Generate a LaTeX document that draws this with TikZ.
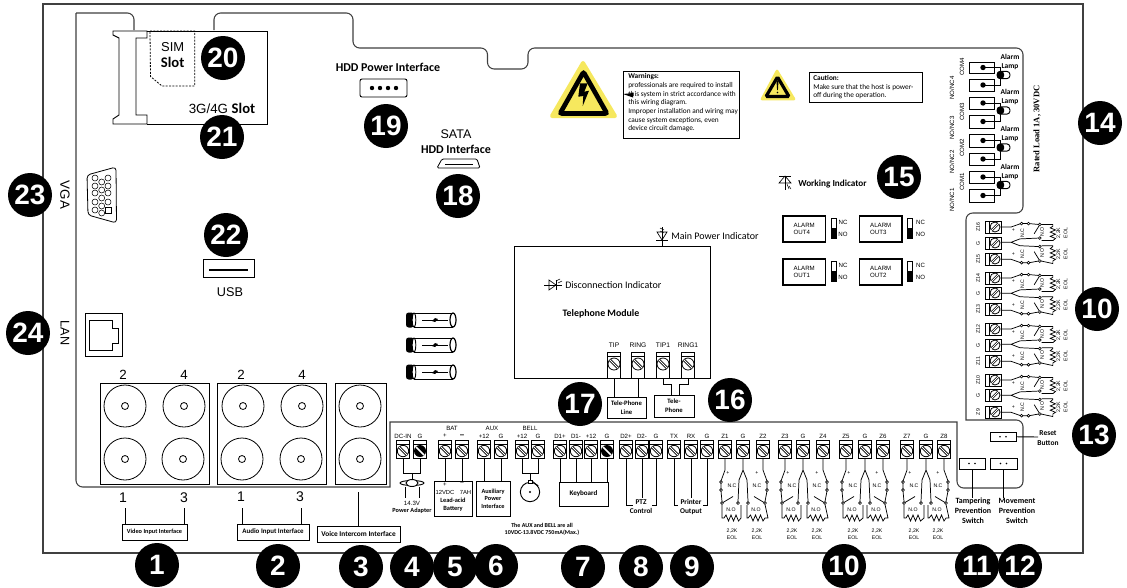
\documentclass[tikz,border=0pt]{standalone}
\usepackage{fontspec}
\setmainfont{Liberation Sans}
\newfontfamily\carl{Carlito}
\newfontfamily\serf{Liberation Serif}
\usetikzlibrary{calc}
\definecolor{warnyel}{HTML}{F6E85E}
\tikzset{
  wire/.style={line width=.7pt,line join=miter},
  frameline/.style={line width=.8pt,draw=black!75},
  numc/.style={circle,fill=black,text=white,inner sep=0,minimum size=33pt,font=\fontsize{21}{21}\selectfont\bfseries},
  tb/.style={draw,line width=.7pt,inner sep=0,outer sep=0},
  lab/.style={inner sep=0,font=\fontsize{4.6}{5.5}\selectfont},
  big/.style={inner sep=0,font=\fontsize{10}{11}\selectfont},
  cb/.style={inner sep=0,align=center,font=\carl\bfseries\fontsize{5}{6.6}\selectfont},
  cbm/.style={inner sep=0,align=center,font=\carl\bfseries\fontsize{6}{7.5}\selectfont},
  cr/.style={inner sep=0,align=left,font=\carl\fontsize{7.5}{8}\selectfont},
  sm/.style={inner sep=0,font=\fontsize{3.9}{4.6}\selectfont,align=center},
}
\newcommand\bx[7]{\node[draw,#6,minimum width={(#4-#2)*.75pt},minimum height={(#5-#3)*.75pt},inner sep=0,outer sep=0] (#1) at ({(#2+#4)/2},{(#3+#5)/2}) {#7};}
\newcommand\num[3]{\node[numc] (n#3x#1) at (#1,#2) {#3};}
% vertical terminal
\newcommand\tv[3]{%
  \node[tb,minimum width=9.75pt,minimum height=13.5pt] (#1) at (#2,449) {};
  \draw[line width=.6pt] (#2-6.5,444)--(#2+6.5,444);
  \draw[line width=.6pt,fill=white] (#2,451) circle (5.7);
  \draw[line width=2pt,line cap=butt] (#2-4,447)--(#2+4,455);
  \draw[line width=.7pt,white] (#2-4.2,446.8)--(#2+4.2,455.2);
  \node[lab] at (#2,436) {#3};}
\newcommand\tk[3]{%
  \node[tb,minimum width=9.75pt,minimum height=13.5pt] (#1) at (#2,449) {};
  \draw[line width=.6pt] (#2-6.5,444)--(#2+6.5,444);
  \fill (#2,451) circle (6);
  \draw[line width=1.2pt,white] (#2-4,447)--(#2+4,455);
  \node[lab] at (#2,436) {#3};}
% telephone terminal
\newcommand\tvt[3]{%
  \node[tb,minimum width=9.75pt,minimum height=19.5pt] (#1) at (#2,365) {};
  \draw[line width=.6pt] (#2-6.5,356.5)--(#2+6.5,356.5);
  \draw[line width=.6pt,fill=white] (#2,364) circle (6);
  \draw[line width=2pt,line cap=butt] (#2-4.2,359.8)--(#2+4.2,368.2);
  \draw[line width=.7pt,white] (#2-4.4,359.6)--(#2+4.4,368.4);
  \node[lab,font=\fontsize{5}{6}\selectfont] at (#2,345) {#3};}
% horizontal terminal
\newcommand\termh[3]{%
  \node[tb,minimum width=12pt,minimum height=9pt] (#1) at (993,#2) {};
  \draw[line width=.6pt] (989,#2-6)--(989,#2+6);
  \draw[line width=.6pt,fill=white] (995,#2) circle (5);
  \draw[line width=1.7pt] (991.5,#2+3.5)--(998.5,#2-3.5);
  \draw[line width=.6pt,white] (991.3,#2+3.7)--(998.7,#2-3.7);
  \node[lab,rotate=90,font=\fontsize{3.9}{4.6}\selectfont] at (978,#2) {#3};}
% coordinate map for zone wiring
\newcommand\PT[2]{({\mA+\mB*(#1)+\mC*(#2)},{\mD+\mE*(#1)+\mF*(#2)})}
\newcommand\zone[3]{%
  \draw[wire,line width=.55pt]
    \PT{#1}{458}--\PT{#1}{470}--\PT{#1-4}{481}\PT{#1-4}{483}--\PT{#1-4}{489}\PT{#1-4}{491}--\PT{#1-3}{501.5}
    \PT{#1-3}{504.5}--\PT{#1-3}{518}--\PT{#1-1}{518}--\PT{#1+1}{515}--\PT{#1+3.5}{521}--\PT{#1+6}{515}--\PT{#1+8.5}{521}--\PT{#1+11}{515}--\PT{#1+13.5}{521}--\PT{#2-2}{518}--\PT{#2-2}{505}
    \PT{#1-2}{502.5}--\PT{#1+8}{496.5}
    \PT{#2}{458}--\PT{#2}{470}--\PT{#2-4}{480}--\PT{#2-5}{501.5}
    \PT{#2}{470}--\PT{#2+4}{480}--\PT{#2+5}{501.5}
    \PT{#3}{458}--\PT{#3}{470}--\PT{#3+4}{481}\PT{#3+4}{483}--\PT{#3+4}{489}\PT{#3+4}{491}--\PT{#3+2}{501.5}
    \PT{#3+2}{504.5}--\PT{#3+5}{518}--\PT{#3+2}{518}--\PT{#3}{521}--\PT{#3-2.5}{515}--\PT{#3-5}{521}--\PT{#3-7.5}{515}--\PT{#3-10}{521}--\PT{#3-12.5}{515}--\PT{#3-15}{518}--\PT{#3-16}{518}--\PT{#3-16}{505}
    \PT{#3+1}{502.5}--\PT{#3-9}{496.5};
  \foreach \uu/\vv in {#1-4/482,#1-4/490,#1-3/503,#2-5/503,#2+5/503,#3+4/482,#3+4/490,#3+2/503}
    \draw[line width=.45pt,fill=white] \PT{\uu}{\vv} circle (1.4);
  \node[sm,rotate=\zrot] at \PT{#1+3}{473} {+};
  \node[sm,rotate=\zrot] at \PT{#3-6}{473} {+};
  \node[sm,rotate=\zrot] at \PT{#1+7}{\vc} {N.C};
  \node[sm,rotate=\zrot] at \PT{#3-6}{\vc} {N.C};
  \node[sm,rotate=\zrot] at \PT{#1+6}{\vo} {N.O};
  \node[sm,rotate=\zrot] at \PT{#3-7}{\vo} {N.O};
  \node[sm,rotate=\zrot] at \PT{#1+7}{\vk} {2,2K};
  \node[sm,rotate=\zrot] at \PT{#1+7}{\ve} {EOL};
  \node[sm,rotate=\zrot] at \PT{#3-6}{\vk} {2,2K};
  \node[sm,rotate=\zrot] at \PT{#3-6}{\ve} {EOL};
}
\newcommand\fuse[2]{%
  \draw[line width=.7pt] (#1+8,#2-7)--(#1+47,#2-7) (#1+8,#2+7)--(#1+47,#2+7);
  \fill[rounded corners=2] (#1,#2-7.5) rectangle (#1+8,#2+7.5);
  \draw[line width=.7pt,fill=white] (#1+8,#2) ellipse (1.8 and 7);
  \draw[line width=.9pt,fill=white] (#1+47,#2) ellipse (3 and 7);
  \draw[line width=.6pt] (#1+16,#2)--(#1+42,#2);
  \fill (#1+26,#2+1)--(#1+29,#2-2)--(#1+32,#2-1)--(#1+29,#2+2)--cycle;}
\newcommand\bnc[2]{\draw[line width=.6pt] (#1,#2) circle (21) (#1,#2) circle (3.5);}
\newcommand\alarmout[5]{%
  \bx{#1}{#2}{#3}{#2+42.5}{#3+26}{line width=1.3pt,align=left,font=\fontsize{4.6}{5.8}\selectfont}{ALARM\\OUT#4}
  \draw[line width=.4pt] (#2+48,#3+2) rectangle (#2+53,#3+22);
  \fill (#2+48,#3+12) rectangle (#2+53,#3+22);
  \node[lab] at (#2+#5,#3+6) {NC};
  \node[lab] at (#2+#5,#3+18) {NO};}
\newcommand\lamp[3]{% y1 y2 ly
  \draw[line width=.5pt] (983,#1)--(1000,#1)--(1000,#3) (983,#2)--(1000,#2)--(1000,#3);
  \draw[line width=.7pt,fill=white,rounded corners=2.5] (997,#3-3.7) rectangle (1010,#3+3.7);
  \fill[rounded corners=2] (997,#3-3.7) rectangle (1004,#3+3.7);
  \fill (983,#1) circle (2.7) (983,#2) circle (2.7);}
\begin{document}
\begin{tikzpicture}[x=.75pt,y=-.75pt]
\useasboundingbox (0,0) rectangle (1127,587);
\fill[white] (0,0) rectangle (1127,587);
% outer case
\draw[frameline] (43,4) rectangle (1083,553);
% inner board outline
\draw[frameline,rounded corners=5]
  (76,13)--(134,13)--(134,30) (214,30)--(214,13)--(353,13)--(353,48)--(487.5,48)--(487.5,69)--(528,69)--(528,48)--(1023,48)--(1023,213)--(966,213)
  [sharp corners]--(966,420)
  [rounded corners=5]--(1023,420)--(1023,488)--(957,488)
  [sharp corners]--(957,422)--(390,422)--(390,487)
  [rounded corners=5]--(76,487)--(76,13);

% SIM / 3G slot
\draw[line width=.7pt] (113,31)--(147,31)--(147,38)--(136,38)--(136,115)--(147,115)--(147,124)--(113,124)--(113,119)--(119,115)--(119,38)--(113,35)--cycle;
\draw[line width=.7pt] (147,31)--(267,31)--(267,124)--(147,124);
\draw[line width=.6pt,dashed,dash pattern=on 1.5pt off 1pt] (150,31)--(194.7,31)--(194.7,86)--(162,86)--(150.5,76.5)--cycle;
\node[big,font=\fontsize{9.7}{10}\selectfont] (simt) at (172.7,47) {SIM};
\node[inner sep=0,font=\carl\bfseries\fontsize{11}{11}\selectfont] (slott) at (172.7,62) {Slot};
\node[inner sep=0] (g3t) at (222,108) {\fontsize{10}{10}\selectfont 3G/4G \carl\bfseries\fontsize{11}{11}\selectfont Slot};

% HDD
\node[inner sep=0,font=\carl\bfseries\fontsize{9}{9}\selectfont] (hddp) at (388,67) {HDD Power Interface};
\bx{hddc}{360}{79}{407}{97}{line width=.7pt,rounded corners=1.5}{}
\foreach \x in {372,380,388,396} \fill (\x,88) circle (2.2);
\node[inner sep=0,font=\fontsize{9.4}{10}\selectfont] (sata) at (456,134) {SATA};
\node[inner sep=0,font=\carl\bfseries\fontsize{9}{9}\selectfont] (hddi) at (456,149) {HDD Interface};
\draw[line width=.6pt,rounded corners=1] (437,168)--(442,159)--(477,159)--(480,168)--cycle;
\draw[line width=.6pt] (445,164)--(473,164);

% VGA
\node[rotate=-90,inner sep=0,font=\fontsize{10}{10}\selectfont] (vgat) at (65,195) {VGA};
\node[rotate=-90,inner sep=0,font=\fontsize{9.5}{10}\selectfont] (lant) at (65,333) {LAN};
\draw[line width=.6pt,rounded corners=2.5] (87,175)--(116,167)--(116.5,223)--(88,215)--cycle;
\foreach \y in {178,186,193,202,210} \draw[line width=.4pt] (95,\y) circle (3);
\foreach \y in {182,190,198,206,213} \draw[line width=.4pt] (101.7,\y) circle (3);
\foreach \y in {178,186,193,202} \draw[line width=.4pt] (108,\y) circle (3);
\draw[line width=.4pt] (105.5,207.5) rectangle (111,213);
% USB
\bx{usb}{203}{259}{254}{277}{line width=.6pt}{}
\draw[line width=2.2pt] (209,270)--(248,270);
\node[inner sep=0,font=\fontsize{9.5}{10}\selectfont] (usbt) at (230,292) {USB};
% LAN
\bx{lan}{85}{313}{122}{356}{line width=.6pt}{}
\draw[line width=.6pt] (89,320)--(112,320)--(112,328)--(118,328)--(118,343)--(112,343)--(112,350)--(89,350)--cycle;

% BNC blocks
\bx{vb}{100}{383}{209}{484}{line width=.7pt}{}
\bx{ab}{217}{383}{326}{484}{line width=.7pt}{}
\bx{ib}{335}{383}{386}{484}{line width=.7pt}{}
\bnc{125}{406}\bnc{184}{406}\bnc{125}{459}\bnc{183}{459}
\bnc{243}{406}\bnc{302}{406}\bnc{242}{459}\bnc{301}{459}
\bnc{360}{406}\bnc{360}{459}
\foreach \x/\t in {123/2,184/4,241/2,302/4} \node[inner sep=0,font=\fontsize{10}{10}\selectfont] at (\x,375) {\t};
\node[inner sep=0,font=\fontsize{10.5}{10}\selectfont] (v1) at (123,498) {1};
\node[inner sep=0,font=\fontsize{10.5}{10}\selectfont] (v3) at (184,498) {3};
\node[inner sep=0,font=\fontsize{10.5}{10}\selectfont] (a1) at (241,497) {1};
\node[inner sep=0,font=\fontsize{10.5}{10}\selectfont] (a3) at (300,497) {3};
\bx{vbox}{122}{524}{187}{540}{line width=.6pt,cb,font=\carl\bfseries\fontsize{4.7}{5}\selectfont}{Video Input Interface}
\bx{abox}{237}{524}{309}{540}{line width=.6pt,cb,font=\carl\bfseries\fontsize{5.2}{5}\selectfont}{Audio Input Interface}
\bx{ibox}{317}{526}{400}{542}{line width=.6pt,cb,font=\carl\bfseries\fontsize{5.5}{5}\selectfont}{Voice Intercom Interface}
\coordinate (v1w) at (125,508);\coordinate (v3w) at (184,508);
\coordinate (a1w) at (242,508);\coordinate (a3w) at (301,508);\coordinate (iw) at (358,492);
\draw[wire] (v1w)--(v1w|-vbox.north) (v3w)--(v3w|-vbox.north) (a1w)--(a1w|-abox.north) (a3w)--(a3w|-abox.north) (iw)--(iw|-ibox.north);

% terminals: bottom row
\tv{tdc}{403}{DC-IN}\tk{tg1}{420}{G}
\tv{tbp}{445}{+}\tv{tbm}{462}{\textbf{\fontsize{6}{6}\selectfont --}}
\tv{tax}{484}{+12}\tv{tag}{501}{G}
\tv{tbl}{522}{+12}\tv{tbg}{538}{G}
\tv{td1}{560}{D1+}\tv{td2}{576}{D1-}\tv{td3}{591}{+12}\tk{td4}{607}{G}
\tv{tp1}{626}{D2+}\tv{tp2}{642}{D2-}\tv{tp3}{656}{G}
\tv{tr1}{674}{TX}\tv{tr2}{691}{RX}\tv{tr3}{707}{G}
\tv{z1}{725}{Z1}\tv{g1}{743}{G}\tv{z2}{763}{Z2}
\tv{z3}{785}{Z3}\tv{g2}{803}{G}\tv{z4}{823}{Z4}
\tv{z5}{846}{Z5}\tv{g3}{865}{G}\tv{z6}{883}{Z6}
\tv{z7}{907}{Z7}\tv{g4}{926}{G}\tv{z8}{944}{Z8}
\node[lab] (batt) at (452,428) {BAT};
\node[lab] (auxt) at (492,428) {AUX};
\node[lab] (bellt) at (530,428) {BELL};

% DC adapter
\draw[wire] (tdc.south)--(403,473)--(420,473)--(tg1.south);
\coordinate (adp) at (412,483);
\draw[wire] (412,473)--(412,479);
\draw[wire] (405,487)--(405,498) (419,487)--(419,498);
\draw[line width=.7pt,fill=white] (adp) ellipse (12 and 2.5);
\draw[line width=.7pt,fill=white] (adp) ellipse (6 and 3.5);
\node[lab] (v143) at (412,503) {14.3V};
\node[cb,font=\carl\bfseries\fontsize{4.7}{5}\selectfont] (padp) at (412,511) {Power Adapter};
% battery
\bx{batb}{434}{481}{472}{516}{line width=.7pt}{}
\draw[wire] (tbp.south)--(tbp.south|-batb.north) (tbm.south)--(tbm.south|-batb.north);
\node[lab] at (445,485) {+};
\node[lab] at (462,484) {--};
\node[lab,font=\fontsize{4.4}{5}\selectfont] at (445,492) {12VDC};
\node[lab,font=\fontsize{4.4}{5}\selectfont] at (465.5,492) {7AH};
\node[cb,font=\carl\bfseries\fontsize{4.8}{6}\selectfont] (bat2) at (453,505) {Lead-acid\\Battery};
% aux
\bx{auxb}{476}{481}{510}{516}{line width=.7pt,cb,font=\carl\bfseries\fontsize{4.7}{5.6}\selectfont}{Auxiliary\\Power\\Interface}
\draw[wire] (tax.south)--(tax.south|-auxb.north) (tag.south)--(tag.south|-auxb.north);
% bell
\node[draw,circle,line width=.7pt,minimum size=14.5pt,inner sep=0] (bellc) at (530,492) {};
\fill (bellc) circle (1.2);
\draw[wire] (tbl.south)--(522,473)--(538,473)--(tbg.south) (530,473)--(530,480);
\draw[line width=.6pt,fill=white] (528,480) rectangle (532,483);
\draw[line width=.6pt] (532,481)--(537,485); \fill (537.5,485.5) circle (1);
% keyboard
\bx{kbd}{559}{482}{608}{506}{line width=.7pt,cb,font=\carl\bfseries\fontsize{5.3}{6}\selectfont}{Keyboard}
\draw[wire] (td1.south)--(td1.south|-kbd.north) (td2.south)--(td2.south|-kbd.north) (td3.south)--(td3.south|-kbd.north) (td4.south)--(td4.south|-kbd.north);
% PTZ & printer
\node[cb,font=\carl\bfseries\fontsize{5.5}{6.8}\selectfont] (ptz) at (641,507) {PTZ\\Control};
\draw[wire] (tp1.south)--(626,505)--(633,505) (tp2.south)--(642,498) (tp3.south)--(656,505)--(652,505);
\node[cb,font=\carl\bfseries\fontsize{5.5}{6.8}\selectfont] (prn) at (691,507) {Printer\\Output};
\draw[wire] (tr1.south)--(674,505)--(678,505) (tr2.south)--(691,498) (tr3.south)--(707,505)--(703,505);
\node[cb,font=\carl\bfseries\fontsize{4.5}{5.4}\selectfont] (aux2) at (542,529.5) {The AUX and BELL are all\\10VDC-13.8VDC 750mA(Max.)};

% bottom zones
\def\mA{0}\def\mB{1}\def\mC{0}\def\mD{0}\def\mE{0}\def\mF{1}\def\zrot{0}\def\vk{531}\def\ve{537.5}\def\vc{486}\def\vo{510}
\zone{725}{743}{763}\zone{785}{803}{823}\zone{846}{865}{883}\zone{907}{926}{944}

% right terminals
\termh{z16}{227}{Z16}\termh{g5}{243}{G}\termh{z15}{259}{Z15}
\termh{z14}{278}{Z14}\termh{g6}{293}{G}\termh{z13}{309}{Z13}
\termh{z12}{329}{Z12}\termh{g7}{345}{G}\termh{z11}{361}{Z11}
\termh{z10}{380}{Z10}\termh{g8}{395}{G}\termh{z9}{412}{Z9}
\foreach \yy in {227,278,329,380}{
  \pgfmathsetmacro\mD{\yy}
  \def\mA{602.2}\def\mB{0}\def\mC{.87}\def\mE{.85}\def\mF{0}\def\zrot{90}\def\vk{524.5}\def\ve{532.5}\def\vc{483}\def\vo{505.5}
  \zone{0}{18}{38}
}
% switches
\bx{tamp}{959}{458}{985}{469}{line width=.7pt}{}
\bx{move}{990}{458}{1017}{469}{line width=.7pt}{}
\bx{rset}{990}{432}{1016}{441.5}{line width=.7pt}{}
\foreach \n in {tamp,move,rset}{\fill ($(\n)+(-3,0)$) circle (.8) ($(\n)+(3,0)$) circle (.8);}
\node[cbm] (tampt) at (973,511) {Tampering\\Prevention\\Switch};
\node[cbm] (movet) at (1017,511) {Movement\\Prevention\\Switch};
\node[cb,font=\carl\bfseries\fontsize{5.6}{7.5}\selectfont] (rsett) at (1048,438) {Reset\\Button};
\draw[wire] (tamp.south)--(tamp.south|-tampt.north);
\draw[wire] (move.south)--(move.south|-movet.north);
\coordinate (rw) at (1038,437);
\draw[wire] (rset.east)--(rw);

% telephone module
\bx{tel}{514}{246}{710}{378}{line width=.7pt}{}
\tvt{tip}{614}{TIP}\tvt{ring}{638}{RING}\tvt{tip1}{663}{TIP1}\tvt{ring1}{688}{RING1}
\node[cb,font=\carl\bfseries\fontsize{7.4}{8}\selectfont] (telm) at (601,314) {Telephone Module};
\node[cr,anchor=west] (disc) at (565,285) {Disconnection Indicator};
\node[cr,anchor=west] (mainp) at (671,236) {Main Power Indicator};
\node[cbm,anchor=west,font=\carl\bfseries\fontsize{6.9}{7.5}\selectfont] (work) at (798,184) {Working Indicator};
\bx{tline}{607}{397}{646}{418}{line width=.7pt,cb}{Tele-Phone\\Line}
\bx{tphone}{654}{395}{694}{417}{line width=.7pt,cb}{Tele-\\Phone}
\draw[wire] (tip.south)--(tip.south|-tline.north) (ring.south)--(ring.south|-tline.north);
\draw[wire] (tip1.south)--(663,384)--(671,384)--(671,395) (ring1.south)--(688,384)--(679,384)--(679,395);
% indicator symbols
\draw[line width=.5pt] (662,227)--(662,246) (656,240)--(668,240);
\draw[line width=.5pt] (657,232)--(667,232)--(662,240)--cycle;
\draw[line width=.4pt] (664,230)--(660,228) (664,233)--(660,231);
\draw[line width=.5pt] (544,285)--(562,285) (556,280)--(556,290);
\draw[line width=.5pt] (549,280)--(549,290)--(556,285)--cycle;
\draw[line width=.4pt] (556,281)--(560,279) (558,283)--(562,281);
\draw[line width=.5pt] (785,176)--(785,190) (779,176)--(791,176);
\draw[line width=.5pt] (779,183)--(791,183)--(785,176)--cycle;
\draw[line width=.4pt] (787,184)--(789,189) (789,186)--(791,189);

% warnings
\draw[draw=warnyel,fill=warnyel,line width=3pt,line join=round] (583,63)--(552,116)--(615,116)--cycle;
\draw[line width=3.5pt,rounded corners=1.5,fill=warnyel] (583.5,72)--(560,113.5)--(607,113.5)--cycle;
\fill (580,83.3)--(587.7,83.3)--(584.3,91.7)--(589,90.7)--(582.7,106)--(583.3,96)--(578.3,96.7)--cycle;
\node[draw,line width=.7pt,inner sep=0,anchor=north west,minimum width=87pt,minimum height=50.3pt] (warn) at (623,71) {};
\node[inner sep=0,anchor=north west,align=left,font=\carl\fontsize{5.5}{6.5}\selectfont] (warnt) at (628,73.5) {\textbf{Warnings:}\\professionals are required to install\\this system in strict accordance with\\this wiring diagram.\\Improper installation and wiring may\\cause system exceptions, even\\device circuit damage.};
\fill (623,94)--(633,93)--(633,97.5)--cycle;
\draw[draw=warnyel,fill=warnyel,line width=2pt,line join=round] (777,71)--(762,99)--(794,99)--cycle;
\draw[line width=2.4pt,rounded corners=1,fill=warnyel] (777.5,77)--(766,96.5)--(789,96.5)--cycle;
\fill (776.5,81)--(778.5,81)--(777.9,90)--(777.1,90)--cycle;
\fill (777.5,92.5) circle (.9);
\node[draw,line width=.7pt,inner sep=0,anchor=north west,minimum width=85pt,minimum height=22.5pt] (caut) at (809,72) {};
\node[inner sep=0,anchor=north west,align=left,font=\carl\fontsize{5.5}{6.5}\selectfont] (cautt) at (813,75) {\textbf{Caution:}\\Make sure that the host is power-\\off during the operation.};

% alarm outputs
\alarmout{ao4}{783}{216}{4}{60}
\alarmout{ao3}{859.5}{216}{3}{61}
\alarmout{ao1}{783}{259}{1}{60}
\alarmout{ao2}{859.5}{259}{2}{61}

% alarm relay blocks
\foreach \a/\b in {62/73.5,79/91,97/109,115/128,134/147,153/165,171/183,189/202}
  \draw[line width=.6pt] (969,\a) rectangle (994,\b);
\lamp{67.5}{85}{75}
\lamp{103}{121.5}{110.5}
\lamp{140.5}{159}{147.5}
\lamp{177}{195.5}{185}
\foreach \t/\y in {COM4/67,COM3/112,COM2/148,COM1/182}
  \node[lab,rotate=90] at (962,\y) {\t};
\node[lab,rotate=90] at (952,88) {NO/NC4};
\node[lab,rotate=90] at (952,128) {NO/NC3};
\node[lab,rotate=90] at (952,162) {NO/NC2};
\node[lab,rotate=90] at (952,200) {NO/NC1};
\foreach \y in {62,97,134,172}
  \node[cb,font=\carl\bfseries\fontsize{5.6}{7.2}\selectfont] at (1010,\y) {Alarm\\Lamp};
\node[rotate=90,inner sep=0,font=\serf\bfseries\fontsize{6.4}{8}\selectfont] (rated) at (1037,129) {Rated Load 1A, 30VDC};

% fuses
\fuse{406}{320}\fuse{406}{345}\fuse{406}{372}

% numbers
\num{157}{565}{1}\num{278}{566}{2}\num{361}{567}{3}\num{412}{567}{4}\num{455}{567}{5}\num{496}{566}{6}
\num{583}{567}{7}\num{641}{567}{8}\num{692}{567}{9}\num{844}{566}{10}\num{977}{566}{11}\num{1020}{566}{12}
\num{1094}{435}{13}\num{1100}{123}{14}\num{899}{177}{15}\num{730}{400}{16}\num{580}{404}{17}\num{458}{196}{18}
\num{386}{126}{19}\num{223}{58}{20}\num{222}{137}{21}\num{226}{235}{22}\num{30}{195}{23}\num{28}{333}{24}
\num{1097}{309}{10}
\end{tikzpicture}
\end{document}
